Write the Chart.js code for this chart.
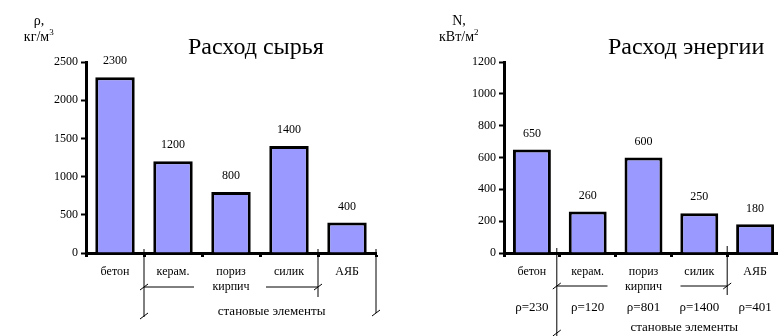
<!DOCTYPE html>
<html>
<head>
<meta charset="utf-8">
<script src="https://cdn.jsdelivr.net/npm/chart.js@4.4.1/dist/chart.umd.min.js"></script>
<style>
  html, body { margin: 0; padding: 0; background: #fff; overflow: hidden; }
  #wrap { position: relative; width: 778px; height: 336px; overflow: hidden; }
  #rawChart { position: absolute; left: 0; top: 0; }
  #energyChart { position: absolute; left: 390px; top: 0; }
</style>
</head>
<body>
<div id="wrap">
  <canvas id="rawChart" width="390" height="336"></canvas>
  <canvas id="energyChart" width="400" height="336"></canvas>
</div>
<script>
//Data
const materials = ['бетон', 'керам.', ['пориз', 'кирпич'], 'силик', 'АЯБ'];
const rawUse = [2300, 1200, 800, 1400, 400];
const energyUse = [650, 260, 600, 250, 180];
const densityNotes = ['ρ=230', 'ρ=120', 'ρ=801', 'ρ=1400', 'ρ=401'];
const groupLabel = 'становые элементы';

const FONT = '"Liberation Serif", "Times New Roman", serif';
const BAR_FILL = '#9999ff';

//small helpers for the bracket drawing
const line = (ctx, x1, y1, x2, y2) => {
  ctx.beginPath();
  ctx.moveTo(x1, y1);
  ctx.lineTo(x2, y2);
  ctx.stroke();
};
const slash = (ctx, x, y) => line(ctx, x - 4, y + 3, x + 4, y - 3);

const boundary = (chart, i) => {
  const x = chart.scales.x;
  return x.left + i * x.width / chart.data.labels.length;
};

//titles, unit labels and the value labels over the bars
const makeDecor = (spec) => ({
  id: 'decor',
  afterDatasetsDraw(chart) {
    const ctx = chart.ctx;
    ctx.save();
    ctx.fillStyle = '#000';
    ctx.strokeStyle = '#000';

    //title
    ctx.font = '24px ' + FONT;
    ctx.textAlign = 'left';
    ctx.textBaseline = 'alphabetic';
    ctx.fillText(spec.title, spec.titleX, 54);

    //unit label
    ctx.font = '14px ' + FONT;
    ctx.textAlign = 'center';
    ctx.fillText(spec.unitTop, spec.unitX, 25);
    ctx.textAlign = 'left';
    const w = ctx.measureText(spec.unit).width;
    const ux = spec.unitX - (w + 5) / 2;
    ctx.fillText(spec.unit, ux, 41);
    ctx.font = '9px ' + FONT;
    ctx.fillText(spec.unitSup, ux + w, 35);

    //values above bars
    ctx.font = '12px ' + FONT;
    ctx.textAlign = 'center';
    ctx.textBaseline = 'middle';
    const meta = chart.getDatasetMeta(0);
    meta.data.forEach((bar, i) => {
      ctx.fillText(chart.data.datasets[0].data[i], bar.x, bar.y - 16);
    });

    //brackets under the axis
    ctx.lineWidth = 1;
    spec.brackets(chart, ctx);
    ctx.restore();
  }
});

const makeChart = (id, values, max, step, axisWidth, rightPad, spec) => {
  return new Chart(document.getElementById(id), {
    type: 'bar',
    data: {
      labels: materials,
      datasets: [{
        data: values,
        backgroundColor: BAR_FILL,
        borderColor: '#000',
        borderWidth: 3,
        borderSkipped: 'bottom',
        barPercentage: 0.68,
        categoryPercentage: 1
      }]
    },
    options: {
      responsive: false,
      animation: false,
      layout: { padding: { top: 62, right: rightPad, left: 0, bottom: 0 } },
      plugins: { legend: { display: false }, tooltip: { enabled: false }, title: { display: false } },
      scales: {
        x: {
          grid: { display: true, drawOnChartArea: false, offset: true, tickLength: 4, tickColor: '#000', tickWidth: 3 },
          border: { display: true, color: '#000', width: 3 },
          ticks: { color: '#000', font: { family: FONT, size: 12 }, padding: 8, maxRotation: 0, autoSkip: false },
          afterFit: (s) => { s.height = 336 - 253; }
        },
        y: {
          min: 0,
          max: max,
          grid: { display: true, drawOnChartArea: false, tickLength: 5, tickColor: '#000', tickWidth: 2 },
          border: { display: true, color: '#000', width: 3 },
          ticks: { stepSize: step, color: '#000', font: { family: FONT, size: 12 }, padding: 3, callback: (v) => String(v) },
          afterFit: (s) => { s.width = axisWidth; }
        }
      }
    },
    plugins: [makeDecor(spec)]
  });
};

//Raw material chart
makeChart('rawChart', rawUse, 2500, 500, 86, 14, {
  title: 'Расход сырья',
  titleX: 188,
  unitTop: 'ρ,',
  unit: 'кг/м',
  unitSup: '3',
  unitX: 39,
  brackets: (chart, ctx) => {
    const bottom = chart.chartArea.bottom;
    const x = chart.scales.x;
    const b1 = boundary(chart, 1), b4 = boundary(chart, 4), b5 = boundary(chart, 5);
    const c2 = x.getPixelForValue(2);
    line(ctx, b1, bottom - 4, b1, bottom + 64);
    slash(ctx, b1, bottom + 63);
    line(ctx, b1, bottom + 34, c2 - 37, bottom + 34);
    line(ctx, c2 + 35, bottom + 34, b4, bottom + 34);
    slash(ctx, b1, bottom + 34);
    slash(ctx, b4, bottom + 34);
    line(ctx, b4, bottom - 4, b4, bottom + 44);
    line(ctx, b5, bottom - 4, b5, bottom + 60);
    slash(ctx, b5, bottom + 60);
    ctx.font = '13px ' + FONT;
    ctx.textAlign = 'center';
    ctx.textBaseline = 'middle';
    ctx.fillText(groupLabel, x.getPixelForValue(2.7), bottom + 59);
  }
});

//Energy chart
makeChart('energyChart', energyUse, 1200, 200, 114, 7, {
  title: 'Расход энергии',
  titleX: 218,
  unitTop: 'N,',
  unit: 'кВт/м',
  unitSup: '2',
  unitX: 69,
  brackets: (chart, ctx) => {
    const bottom = chart.chartArea.bottom;
    const x = chart.scales.x;
    const b1 = boundary(chart, 1) - 3, b4 = boundary(chart, 4);
    const c2 = x.getPixelForValue(2);
    line(ctx, b1, bottom - 5, b1, 336);
    slash(ctx, b1, bottom + 80);
    line(ctx, b1, bottom + 33, c2 - 36, bottom + 33);
    line(ctx, c2 + 37, bottom + 33, b4, bottom + 33);
    slash(ctx, b1, bottom + 33);
    slash(ctx, b4, bottom + 33);
    line(ctx, b4, bottom - 7, b4, bottom + 42);
    ctx.font = '13px ' + FONT;
    ctx.textAlign = 'center';
    ctx.textBaseline = 'middle';
    densityNotes.forEach((note, i) => {
      ctx.fillText(note, x.getPixelForValue(i), bottom + 55);
    });
    ctx.fillText(groupLabel, x.getPixelForValue(2.73), bottom + 75);
  }
});
</script>
</body>
</html>
